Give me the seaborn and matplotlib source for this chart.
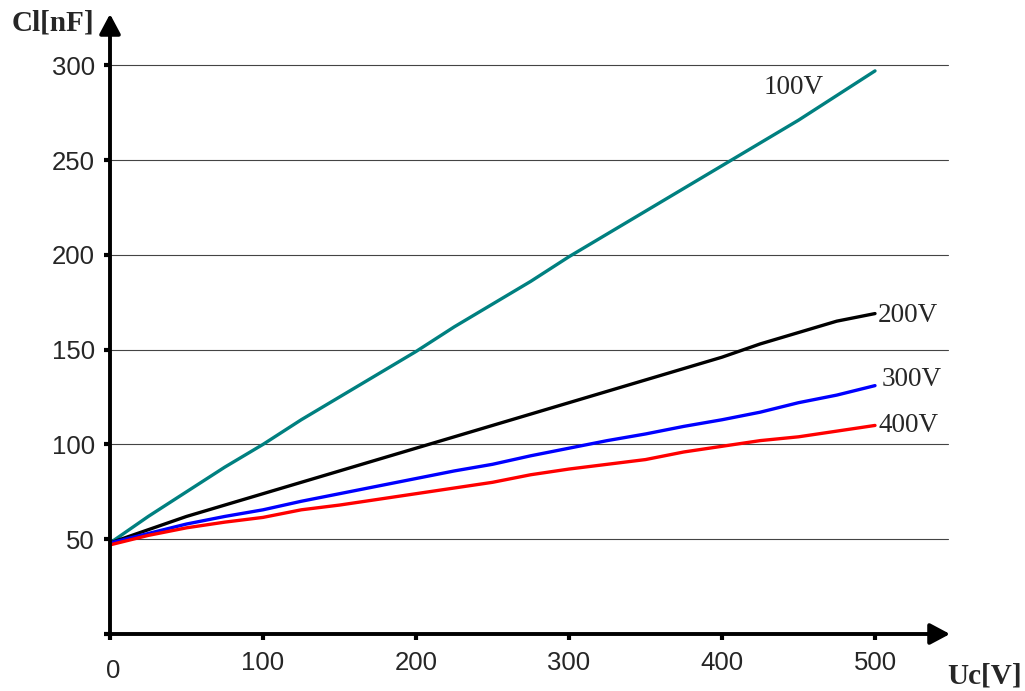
import numpy as np
import pandas as pd
import matplotlib
matplotlib.use("Agg")
import matplotlib.pyplot as plt
import matplotlib.transforms as mtrans
import seaborn as sns

# data
uc = [0, 25, 50, 75, 100, 125, 150, 175, 200, 225, 250,
      275, 300, 325, 350, 375, 400, 425, 450, 475, 500]
cl_100 = [48, 62, 75, 88, 100, 113, 125, 137, 149, 162, 174,
          186, 199, 211, 223, 235, 247, 259, 271, 284, 297]
cl_200 = [48, 55, 62, 68, 74, 80, 86, 92, 98, 104, 110,
          116, 122, 128, 134, 140, 146, 153, 159, 165, 169]
cl_300 = [48, 53, 58, 62, 65.5, 70, 74, 78, 82, 86, 89.5,
          94, 98, 102, 105.5, 109.5, 113, 117, 122, 126, 131]
cl_400 = [47, 52, 56, 59, 61.5, 65.5, 68, 71, 74, 77, 80,
          84, 87, 89.5, 92, 96, 99, 102, 104, 107, 110]
series = ["100V", "200V", "300V", "400V"]
colors = ["#008080", "#000000", "#0000FF", "#FF0000"]
yticks = [0, 50, 100, 150, 200, 250, 300]
xticks = [0, 100, 200, 300, 400, 500]

df = pd.DataFrame({
    "Uc": uc * 4,
    "Cl": cl_100 + cl_200 + cl_300 + cl_400,
    "U": sum([[s] * len(uc) for s in series], []),
})

sns.set_style("white")
plt.rcParams["font.family"] = ["Liberation Sans", "DejaVu Sans"]

fig = plt.figure(figsize=(10.25, 6.91), dpi=100)
# x: 0 -> px 110, 1.53 px/unit ; y: 0 -> px 634, 1.896 px/unit
ax = fig.add_axes([110 / 1025, (691 - 634) / 691, 550 * 1.53 / 1025, 328 * 1.896 / 691])

# grid lines
for y in yticks[1:]:
    ax.plot([0, 548], [y, y], color="#444444", lw=0.8, zorder=1)

sns.lineplot(data=df, x="Uc", y="Cl", hue="U", palette=colors, lw=2.4,
             legend=False, ax=ax, zorder=3)

ax.set_xlim(0, 550)
ax.set_ylim(0, 328)
for s in ax.spines.values():
    s.set_visible(False)

# axis lines with arrows
arr = dict(arrowstyle="-|>,head_length=0.6,head_width=0.32", lw=2.8,
           color="black", mutation_scale=20, shrinkA=0, shrinkB=0)
ax.annotate("", xy=(549, 0), xytext=(-2, 0), arrowprops=arr,
            annotation_clip=False, zorder=5)
ax.annotate("", xy=(0, 327), xytext=(0, -2), arrowprops=arr,
            annotation_clip=False, zorder=5)

ax.set_xticks(xticks)
ax.set_xticklabels([str(v) for v in xticks])
ax.set_yticks(yticks)
ax.set_yticklabels([""] + [str(v) for v in yticks[1:]])
ax.tick_params(axis="both", direction="out", length=4, width=3,
               color="black", labelsize=18.5, bottom=True, left=True)
ax.tick_params(axis="y", pad=7)
ax.tick_params(axis="x", pad=8)
# the "0" under the origin sits a bit lower
lbl0 = ax.get_xticklabels()[0]
lbl0.set_transform(lbl0.get_transform() +
                   mtrans.ScaledTranslation(0.03, -0.08, fig.dpi_scale_trans))
ax.set_xlabel("")
ax.set_ylabel("")

# line labels
lab = dict(family=["Liberation Serif", "DejaVu Serif"], fontsize=19.5, va="center")
ax.text(427, 288, "100V", **lab)
ax.text(502, 168, "200V", **lab)
ax.text(504.5, 134, "300V", **lab)
ax.text(502, 110, "400V", **lab)

# axis titles
ttl = dict(family=["Liberation Serif", "DejaVu Serif"], fontsize=21,
           fontweight="bold", va="center")
fig.text(12 / 1025, 1 - 23 / 691, "Cl[nF]", ha="left", **ttl)
fig.text(1022 / 1025, 1 - 676 / 691, "Uc[V]", ha="right", **ttl)

fig.savefig("out.png", dpi=100)
